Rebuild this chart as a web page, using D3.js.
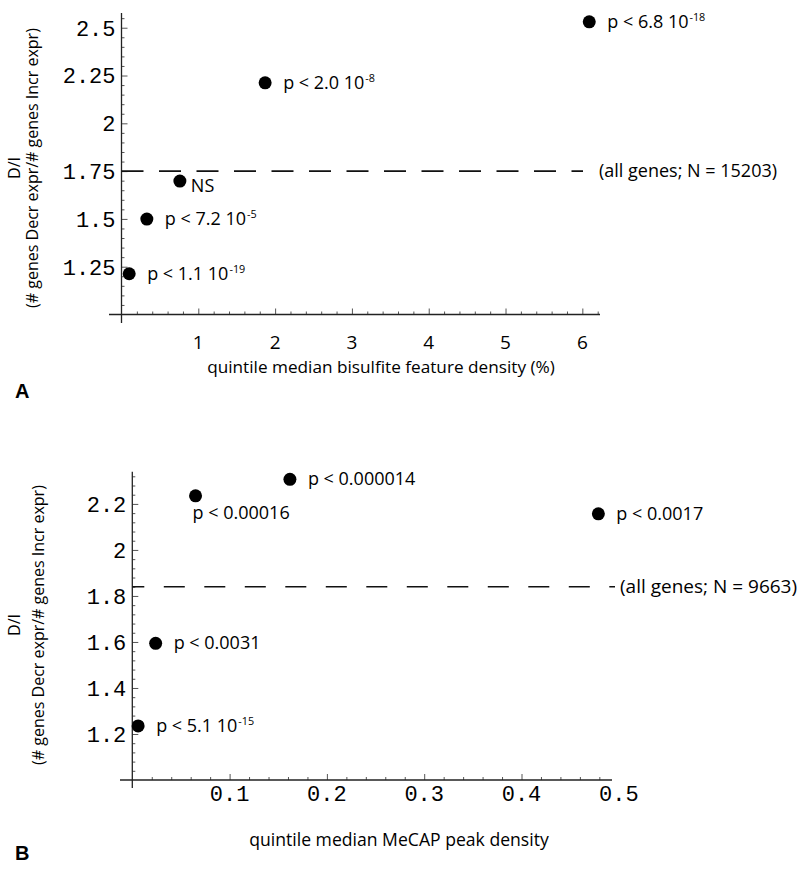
<!DOCTYPE html>
<html><head><meta charset="utf-8">
<script src="https://cdn.jsdelivr.net/npm/d3@7"></script>
<style>
body{margin:0;background:#fff;}
svg{display:block;}
.mono{font-family:"Liberation Mono","DejaVu Sans Mono",monospace;}
.sans{font-family:"Open Sans","Noto Sans",sans-serif;}
</style></head>
<body>
<svg id="chart" width="800" height="884"></svg>
<script>
// ---------- DATA ----------
// Panel A
const aX = [0.10, 0.33, 0.76, 1.87, 6.09];
const aY = [1.213, 1.499, 1.698, 2.212, 2.531];
const aMant = ["p < 1.1 10", "p < 7.2 10", "NS", "p < 2.0 10", "p < 6.8 10"];
const aExp = ["-19", "-5", "", "-8", "-18"];
const aRef = 1.75;
const aRefLabel = "(all genes; N = 15203)";
const aXTicks = [1, 2, 3, 4, 5, 6];
const aYTicks = [1.25, 1.5, 1.75, 2, 2.25, 2.5];
const aYTickLabels = ["1.25", "1.5", "1.75", "2", "2.25", "2.5"];
const aXTitle = "quintile median bisulfite feature density (%)";
// Panel B
const bX = [0.006, 0.024, 0.065, 0.162, 0.479];
const bY = [1.235, 1.594, 2.235, 2.307, 2.157];
const bMant = ["p < 5.1 10", "p < 0.0031", "p < 0.00016", "p < 0.000014", "p < 0.0017"];
const bExp = ["-15", "", "", "", ""];
const bRef = 1.84;
const bRefLabel = "(all genes; N = 9663)";
const bXTicks = [0.1, 0.2, 0.3, 0.4, 0.5];
const bXTickLabels = ["0.1", "0.2", "0.3", "0.4", "0.5"];
const bYTicks = [1.2, 1.4, 1.6, 1.8, 2, 2.2];
const bYTickLabels = ["1.2", "1.4", "1.6", "1.8", "2", "2.2"];
const bXTitle = "quintile median MeCAP peak density";
const yTitle1 = "D/I";
const yTitle2 = "(# genes Decr expr/# genes Incr expr)";

// ---------- LAYOUT ----------
const svg = d3.select("#chart");

function panel(cfg) {
  const g = svg.append("g");
  const x = d3.scaleLinear().domain(cfg.xDomain).range(cfg.xRange);
  const y = d3.scaleLinear().domain(cfg.yDomain).range(cfg.yRange);
  const x0 = x(0), y0 = y(cfg.yDomain[0]);

  const xMinor = d3.range(cfg.xMinorStep, cfg.xDomain[1] + 1e-9, cfg.xMinorStep)
    .filter(v => !cfg.xTicks.some(t => Math.abs(t - v) < 1e-6));
  const yMinor = d3.range(cfg.yDomain[0] + cfg.yMinorStep, cfg.yDomain[1] + 1e-9, cfg.yMinorStep)
    .filter(v => !cfg.yTicks.some(t => Math.abs(t - v) < 1e-6));

  const ax = g.append("g").attr("transform", `translate(0,${y0})`);
  ax.append("g").call(d3.axisBottom(x).tickValues(xMinor).tickSize(-3).tickFormat(""))
    .call(s => s.select(".domain").remove());
  ax.append("g").call(d3.axisBottom(x).tickValues(cfg.xTicks.filter(t => x(t) <= cfg.xLineEnd + 1)).tickSize(-6).tickFormat(""))
    .call(s => s.select(".domain").remove());
  ax.append("g").selectAll("text").data(cfg.xTicks).join("text")
    .attr("class", cfg.xLabelClass)
    .attr("x", d => x(d)).attr("y", cfg.xLabelDy)
    .attr("text-anchor", "middle")
    .style("font-size", cfg.xLabelSize + "px")
    .text((d, i) => cfg.xTickLabels[i]);
  ax.append("line").attr("x1", cfg.xLineStart).attr("x2", cfg.xLineEnd)
    .attr("stroke", "#222").attr("stroke-width", 1.3);
  ax.selectAll(".tick line").attr("stroke", "#555");

  const ay = g.append("g").attr("transform", `translate(${x0},0)`);
  ay.append("g").call(d3.axisLeft(y).tickValues(yMinor).tickSize(-3).tickFormat(""))
    .call(s => s.select(".domain").remove());
  ay.append("g").call(d3.axisLeft(y).tickValues(cfg.yTicks).tickSize(-6).tickFormat(""))
    .call(s => s.select(".domain").remove());
  ay.append("g").selectAll("text").data(cfg.yTicks).join("text")
    .attr("class", "mono")
    .attr("x", -cfg.yLabelPad).attr("y", d => y(d))
    .attr("dy", "0.36em")
    .attr("text-anchor", "end")
    .style("font-size", cfg.yLabelSize + "px")
    .text((d, i) => cfg.yTickLabels[i]);
  ay.append("line").attr("y1", cfg.yLineTop).attr("y2", cfg.yLineBottom)
    .attr("stroke", "#222").attr("stroke-width", 1.3);
  ay.selectAll(".tick line").attr("stroke", "#555");

  // reference dashed line
  g.append("line")
    .attr("x1", x0).attr("x2", cfg.dashEnd)
    .attr("y1", y(cfg.ref)).attr("y2", y(cfg.ref))
    .attr("stroke", "#111").attr("stroke-width", 1.6)
    .attr("stroke-dasharray", cfg.dash).attr("stroke-dashoffset", cfg.dashOffset);
  g.append("text").attr("class", "sans")
    .attr("x", cfg.refLabelX).attr("y", y(cfg.ref)).attr("dy", "0.35em")
    .style("font-size", cfg.refLabelSize + "px")
    .text(cfg.refLabel);

  // points
  g.append("g").selectAll("circle").data(cfg.xs).join("circle")
    .attr("cx", d => x(d)).attr("cy", (d, i) => y(cfg.ys[i]))
    .attr("r", 6.5).attr("fill", "#000");

  // point labels
  const lab = g.append("g").selectAll("text").data(cfg.xs).join("text")
    .attr("class", "sans")
    .attr("x", (d, i) => x(d) + cfg.labOff[i][0])
    .attr("y", (d, i) => y(cfg.ys[i]) + cfg.labOff[i][1])
    .style("font-size", cfg.labSize + "px");
  lab.append("tspan").text((d, i) => cfg.mant[i]);
  lab.append("tspan")
    .attr("dy", -7).attr("dx", 1)
    .style("font-size", (cfg.labSize * 0.6) + "px")
    .text((d, i) => cfg.exp[i]);

  // titles
  g.append("text").attr("class", "sans")
    .attr("x", cfg.xTitleX).attr("y", cfg.xTitleY)
    .attr("text-anchor", "middle").style("font-size", cfg.xTitleSize + "px")
    .text(cfg.xTitle);
  g.append("text").attr("class", "sans")
    .attr("transform", `translate(${cfg.yT1X},${cfg.yTitleY}) rotate(-90)`)
    .attr("text-anchor", "middle").style("font-size", cfg.yTitleSize + "px")
    .text(yTitle1);
  g.append("text").attr("class", "sans")
    .attr("transform", `translate(${cfg.yT2X},${cfg.yTitleY}) rotate(-90)`)
    .attr("text-anchor", "middle").style("font-size", cfg.yTitleSize + "px")
    .text(yTitle2);
  g.append("text")
    .attr("x", 15).attr("y", cfg.letterY)
    .style("font-family", "'Liberation Sans',Arial,sans-serif")
    .style("font-weight", "bold").style("font-size", "20px")
    .text(cfg.letter);
}

panel({
  xDomain: [0, 6.23], xRange: [121.5, 600],
  yDomain: [1, 2.577], yRange: [314.5, 13],
  xTicks: aXTicks, xTickLabels: aXTicks.map(String), xLabelClass: "sans", xLabelSize: 19, xLabelDy: 34,
  xMinorStep: 0.2, yMinorStep: 0.05,
  yTicks: aYTicks, yTickLabels: aYTickLabels, yLabelPad: 6, yLabelSize: 22,
  xLineStart: 109, xLineEnd: 600, yLineTop: 13, yLineBottom: 323,
  ref: aRef, refLabel: aRefLabel, refLabelX: 599, refLabelSize: 18,
  dashEnd: 583, dash: "22,15.5", dashOffset: 0,
  xs: aX, ys: aY, mant: aMant, exp: aExp,
  labOff: [[18, 6], [18, 6], [11, 11], [18, 6], [18, 6]], labSize: 18,
  xTitle: aXTitle, xTitleX: 381, xTitleY: 373, xTitleSize: 17.2,
  yT1X: 20, yT2X: 38, yTitleY: 168, yTitleSize: 16,
  letter: "A", letterY: 398
});

panel({
  xDomain: [0, 0.5], xRange: [132.3, 618.8],
  yDomain: [1, 2.34], yRange: [780, 471.7],
  xTicks: bXTicks, xTickLabels: bXTickLabels, xLabelClass: "mono", xLabelSize: 22, xLabelDy: 21,
  xMinorStep: 0.02, yMinorStep: 0.04,
  yTicks: bYTicks, yTickLabels: bYTickLabels, yLabelPad: 6, yLabelSize: 22,
  xLineStart: 120, xLineEnd: 612, yLineTop: 471.7, yLineBottom: 788,
  ref: bRef, refLabel: bRefLabel, refLabelX: 620, refLabelSize: 19,
  dashEnd: 615, dash: "21,19.5", dashOffset: 9,
  xs: bX, ys: bY, mant: bMant, exp: bExp,
  labOff: [[18, 6], [18, 6], [-3, 23], [18, 6], [18, 6]], labSize: 18,
  xTitle: bXTitle, xTitleX: 399, xTitleY: 846, xTitleSize: 17.6,
  yT1X: 20, yT2X: 44, yTitleY: 625, yTitleSize: 16,
  letter: "B", letterY: 860
});
</script>
</body></html>
